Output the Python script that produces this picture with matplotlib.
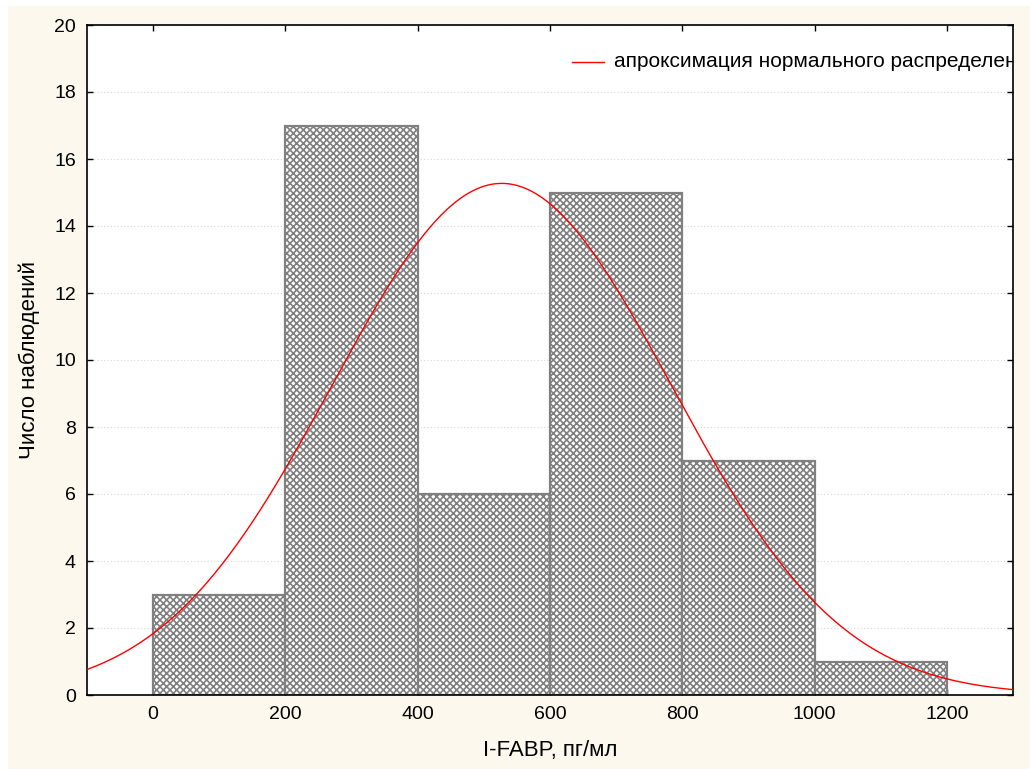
import numpy as np
import matplotlib.pyplot as plt
from matplotlib.patches import Rectangle

plt.rcParams['font.family'] = ['Liberation Sans', 'DejaVu Sans']
plt.rcParams['hatch.color'] = '#808080'
plt.rcParams['hatch.linewidth'] = 1.2

# histogram data
bin_left = [0, 200, 400, 600, 800, 1000]
counts = [3, 17, 6, 15, 7, 1]
bin_width = 200

# normal approximation parameters
n_obs = 49
mu = 527
sigma = 256

fig = plt.figure(figsize=(10.3, 7.69), dpi=100)
fig.patches.append(Rectangle((8 / 1030, 0), 1 - 8 / 1030, 1 - 6 / 769,
                             transform=fig.transFigure, facecolor='#fdf8ee',
                             edgecolor='none', zorder=-10))
ax = fig.add_axes([87 / 1030, 1 - 695 / 769, (1013 - 87) / 1030, (695 - 25) / 769])
ax.set_facecolor('white')

ax.bar(bin_left, counts, width=bin_width, align='edge', facecolor='white',
       edgecolor='#808080', linewidth=1.6, hatch='xxxxx', zorder=2)

x = np.linspace(-100, 1300, 500)
y = n_obs * bin_width / (sigma * np.sqrt(2 * np.pi)) * np.exp(-(x - mu) ** 2 / (2 * sigma ** 2))
ax.plot(x, y, color='red', linewidth=1.0, zorder=3)

ax.set_xlim(-100, 1300)
ax.set_ylim(0, 20)
ax.set_xticks(range(0, 1201, 200))
ax.set_yticks(range(0, 21, 2))
ax.grid(axis='y', linestyle=(0, (1, 2)), color='#d8d8d8', linewidth=0.8, zorder=0)
ax.tick_params(labelsize=14, direction='in', length=4, width=1, top=True, right=True,
               pad=8)
for s in ax.spines.values():
    s.set_linewidth(1.2)

ax.set_xlabel('I-FABP, пг/мл', fontsize=16, labelpad=12)
ax.set_ylabel('Число наблюдений', fontsize=16, labelpad=10)

# legend-like entry clipped at right spine
ax.plot([633, 681], [18.9, 18.9], color='red', linewidth=1.0, zorder=4)
ax.text(697, 18.9, 'апроксимация нормального распределения', fontsize=15,
        va='center', ha='left', clip_on=True, zorder=4)

fig.savefig('out.png', dpi=100)
